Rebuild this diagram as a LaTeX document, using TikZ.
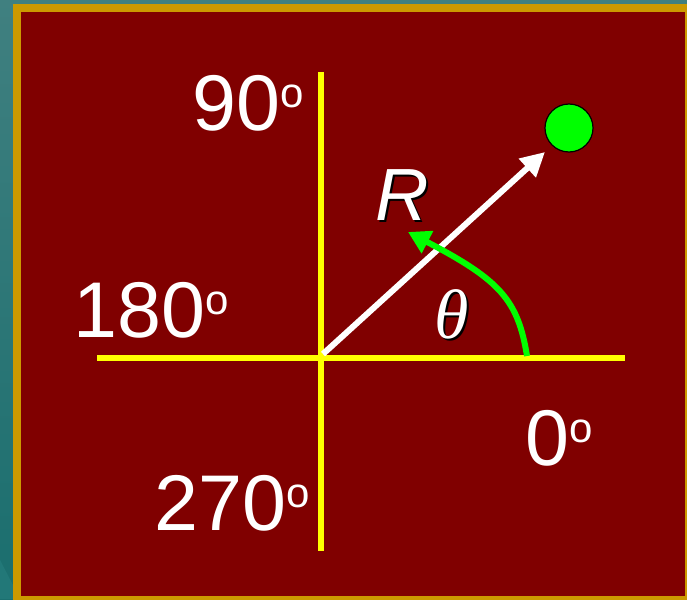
\documentclass[tikz,border=0pt]{standalone}
\usepackage{fontspec}
\setmainfont{Liberation Sans}
\newfontfamily\thetafont{Liberation Serif}
\usetikzlibrary{arrows.meta}
\definecolor{bgteal}{RGB}{64,128,128}
\definecolor{bgtealdark}{RGB}{26,110,110}
\definecolor{bglight}{RGB}{34,120,120}
\definecolor{frame}{RGB}{204,153,0}
\definecolor{panel}{RGB}{128,0,0}
\definecolor{axis}{RGB}{255,255,0}
\definecolor{ball}{RGB}{0,255,0}
\newcommand{\degsign}{\raisebox{23pt}{\fontsize{42}{42}\selectfont o}}
\tikzset{
  deglabel/.style={text=white, inner sep=0pt, anchor=base west, font=\fontsize{79}{80}\selectfont},
  axisline/.style={draw=axis, line width=6pt},
  vector/.style={draw=white, line width=6pt, -{Triangle[length=24pt,width=24pt]}},
  anglearrow/.style={draw=ball, line width=6pt, -{Triangle[length=22pt,width=24pt]}},
  rfont/.style={inner sep=0pt, anchor=base west, font=\fontsize{74}{76}\selectfont\itshape},
  thfont/.style={inner sep=0pt, anchor=base west, font=\fontsize{70}{72}\selectfont\thetafont\itshape},
}
\begin{document}
\begin{tikzpicture}[x=1pt,y=-1pt]
\useasboundingbox (0,0) rectangle (687,599);
% background
\shade[top color=bgteal, bottom color=bgtealdark] (0,0) rectangle (687,599);
\fill[bglight] (0,560) -- (13,585) -- (13,599) -- (0,599) -- cycle;
\begin{scope}
\clip (0,0) rectangle (687,599);
\fill[frame] (13,4) rectangle (695,607);
\fill[panel] (21,12) rectangle (685,596);
\end{scope}
% axes
\coordinate (vtop) at (321,72);
\coordinate (vbot) at (321,551);
\coordinate (hleft) at (97,358);
\coordinate (hright) at (625,358);
\coordinate (origin) at (323,354);
\path[axisline] (vtop) -- (vbot);
\path[axisline] (hleft) -- (hright);
% ball and vector
\node[circle, fill=ball, draw=black, line width=1.2pt, minimum size=48pt, inner sep=0pt] (ball) at (569,128) {};
\coordinate (tip) at (545,152);
\path[vector] (origin) -- (tip);
% angle arrow
\coordinate (astart) at (527,356);
\coordinate (aend) at (408,232);
\path[anglearrow] (astart) .. controls (518,300) and (500,280) .. (aend);
% labels
\node[deglabel] (l90) at (192,130) {90\degsign};
\node[deglabel] (l180) at (73,337) {180\degsign};
\node[deglabel] (l270) at (154,530) {270\degsign};
\node[deglabel] (l0) at (525,465) {0\degsign};
\node[rfont, text=black] (Rs) at (377,222) {R};
\node[rfont, text=white] (R) at (375,220) {R};
\node[thfont, text=black] (thetas) at (436,340) {θ};
\node[thfont, text=white] (theta) at (434,338) {θ};
\end{tikzpicture}
\end{document}
